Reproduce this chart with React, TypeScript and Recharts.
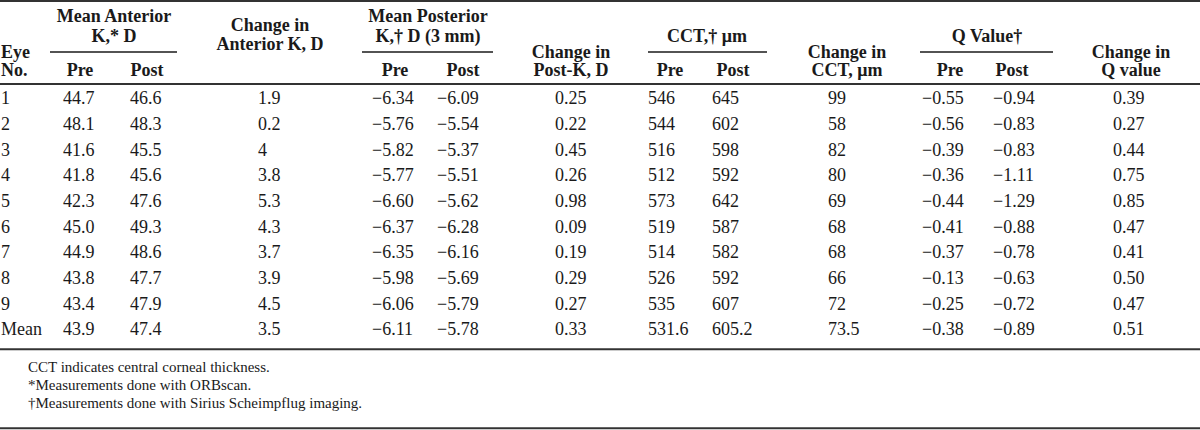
import { ScatterChart, Scatter, XAxis, YAxis, ReferenceLine } from 'recharts';

// Table values, one array per column (last entry = Mean row)
const EYES = ['1', '2', '3', '4', '5', '6', '7', '8', '9', 'Mean'];
const ANT_K_PRE = [44.7, 48.1, 41.6, 41.8, 42.3, 45.0, 44.9, 43.8, 43.4, 43.9];
const ANT_K_POST = [46.6, 48.3, 45.5, 45.6, 47.6, 49.3, 48.6, 47.7, 47.9, 47.4];
const ANT_K_CHANGE = [1.9, 0.2, 4, 3.8, 5.3, 4.3, 3.7, 3.9, 4.5, 3.5];
const POST_K_PRE = [-6.34, -5.76, -5.82, -5.77, -6.6, -6.37, -6.35, -5.98, -6.06, -6.11];
const POST_K_POST = [-6.09, -5.54, -5.37, -5.51, -5.62, -6.28, -6.16, -5.69, -5.79, -5.78];
const POST_K_CHANGE = [0.25, 0.22, 0.45, 0.26, 0.98, 0.09, 0.19, 0.29, 0.27, 0.33];
const CCT_PRE = [546, 544, 516, 512, 573, 519, 514, 526, 535, 531.6];
const CCT_POST = [645, 602, 598, 592, 642, 587, 582, 592, 607, 605.2];
const CCT_CHANGE = [99, 58, 82, 80, 69, 68, 68, 66, 72, 73.5];
const Q_PRE = [-0.55, -0.56, -0.39, -0.36, -0.44, -0.41, -0.37, -0.13, -0.25, -0.38];
const Q_POST = [-0.94, -0.83, -0.83, -1.11, -1.29, -0.88, -0.78, -0.63, -0.72, -0.89];
const Q_CHANGE = [0.39, 0.27, 0.44, 0.75, 0.85, 0.47, 0.41, 0.5, 0.47, 0.51];

// Header texts
const EYE_TITLE = ['Eye', 'No.'];
const ANT_TITLE = ['Mean Anterior', 'K,* D'];
const POST_TITLE = ['Mean Posterior', 'K,† D (3 mm)'];
const CCT_TITLE = 'CCT,† μm';
const Q_TITLE = 'Q Value†';
const SUB_TITLES = ['Pre', 'Post'];
const ANT_CHANGE_TITLE = ['Change in', 'Anterior K, D'];
const POST_CHANGE_TITLE = ['Change in', 'Post-K, D'];
const CCT_CHANGE_TITLE = ['Change in', 'CCT, μm'];
const Q_CHANGE_TITLE = ['Change in', 'Q value'];

const FOOTNOTES = [
  'CCT indicates central corneal thickness.',
  '*Measurements done with ORBscan.',
  '†Measurements done with Sirius Scheimpflug imaging.',
];

const FONT = "'Liberation Serif', 'Times New Roman', serif";
const INK = '#1a1a1a';
const RULE = '#333';

const fixed = (d: number) => (v: number) => (v < 0 ? '\u2212' : '') + Math.abs(v).toFixed(d);
const plain = (v: number) => String(v);

// vertical layout, in table-row units (row 1 = 1, Mean = 10)
const Y = {
  topRule: -2.78,
  line1: -2.19,
  line2: -1.42,
  changeA1: -1.84,
  changeA2: -1.1,
  groupRule: -0.79,
  line3: -0.79,
  line4: -0.09,
  headRule: 0.45,
  meanRule: 10.78,
  foot: [11.48, 12.18, 12.88],
  bottomRule: 13.86,
};

type Cell = { x: number; y: number; text: string; anchor: string; bold?: boolean; size?: number };

const columns: { values: number[]; fmt: (v: number) => string; x: number }[] = [
  { values: ANT_K_PRE, fmt: fixed(1), x: 63 },
  { values: ANT_K_POST, fmt: fixed(1), x: 130 },
  { values: ANT_K_CHANGE, fmt: plain, x: 258 },
  { values: POST_K_PRE, fmt: fixed(2), x: 372 },
  { values: POST_K_POST, fmt: fixed(2), x: 437 },
  { values: POST_K_CHANGE, fmt: fixed(2), x: 555 },
  { values: CCT_PRE, fmt: plain, x: 648 },
  { values: CCT_POST, fmt: plain, x: 712 },
  { values: CCT_CHANGE, fmt: plain, x: 828 },
  { values: Q_PRE, fmt: fixed(2), x: 922 },
  { values: Q_POST, fmt: fixed(2), x: 993 },
  { values: Q_CHANGE, fmt: fixed(2), x: 1113 },
];

const bodyCells: Cell[] = [
  ...EYES.map((e, i) => ({ x: 1, y: i + 1, text: e, anchor: 'start' })),
  ...columns.flatMap((c) =>
    c.values.map((v, i) => ({ x: c.x, y: i + 1, text: c.fmt(v), anchor: 'start' }))
  ),
];

const groups = [
  { title: ANT_TITLE, center: 114, from: 50, to: 177, pre: 80, post: 147 },
  { title: POST_TITLE, center: 428, from: 362, to: 493, pre: 395, post: 463 },
  { title: [CCT_TITLE], center: 707, from: 648, to: 767, pre: 670, post: 733 },
  { title: [Q_TITLE], center: 987, from: 920, to: 1053, pre: 950, post: 1012 },
];

const hd = (text: string, x: number, y: number, anchor = 'middle'): Cell => ({ x, y, text, anchor, bold: true });

const headCells: Cell[] = [
  hd(EYE_TITLE[0], 1, Y.line3, 'start'),
  hd(EYE_TITLE[1], 1, Y.line4, 'start'),
  ...groups.flatMap((g) => [
    ...(g.title.length === 2
      ? [hd(g.title[0], g.center, Y.line1), hd(g.title[1], g.center, Y.line2)]
      : [hd(g.title[0], g.center, Y.line2)]),
    hd(SUB_TITLES[0], g.pre, Y.line4),
    hd(SUB_TITLES[1], g.post, Y.line4),
  ]),
  hd(ANT_CHANGE_TITLE[0], 270, Y.changeA1),
  hd(ANT_CHANGE_TITLE[1], 270, Y.changeA2),
  hd(POST_CHANGE_TITLE[0], 571, Y.line3),
  hd(POST_CHANGE_TITLE[1], 571, Y.line4),
  hd(CCT_CHANGE_TITLE[0], 847, Y.line3),
  hd(CCT_CHANGE_TITLE[1], 847, Y.line4),
  hd(Q_CHANGE_TITLE[0], 1131, Y.line3),
  hd(Q_CHANGE_TITLE[1], 1131, Y.line4),
];

const footCells: Cell[] = FOOTNOTES.map((t, i) => ({ x: 28, y: Y.foot[i], text: t, anchor: 'start', size: 15 }));

const TextCell = (props: any) => {
  const { cx, cy, payload } = props;
  return (
    <text
      x={cx}
      y={cy}
      dy="0.35em"
      textAnchor={payload.anchor}
      fontFamily={FONT}
      fontSize={payload.size ?? 18}
      fontWeight={payload.bold ? 700 : 400}
      fill={INK}
    >
      {payload.text}
    </text>
  );
};

export default function App() {
  return (
    <div style={{ position: 'absolute', left: 0, top: 0, background: '#fff' }}>
      <ScatterChart width={1200} height={430} margin={{ top: 0, right: 0, bottom: 0, left: 0 }}>
        <XAxis type="number" dataKey="x" domain={[0, 1200]} allowDataOverflow hide />
        <YAxis type="number" dataKey="y" domain={[-2.82, 13.93]} allowDataOverflow reversed hide />

        {/* horizontal rules */}
        {[Y.topRule, Y.headRule, Y.meanRule, Y.bottomRule].map((y) => (
          <ReferenceLine key={y} y={y} stroke={RULE} strokeWidth={2} />
        ))}
        {/* group underlines */}
        {groups.map((g) => (
          <ReferenceLine
            key={g.center}
            segment={[
              { x: g.from, y: Y.groupRule },
              { x: g.to, y: Y.groupRule },
            ]}
            stroke={INK}
            strokeWidth={1.5}
          />
        ))}

        <Scatter data={headCells} shape={TextCell} isAnimationActive={false} />
        <Scatter data={bodyCells} shape={TextCell} isAnimationActive={false} />
        <Scatter data={footCells} shape={TextCell} isAnimationActive={false} />
      </ScatterChart>
    </div>
  );
}
